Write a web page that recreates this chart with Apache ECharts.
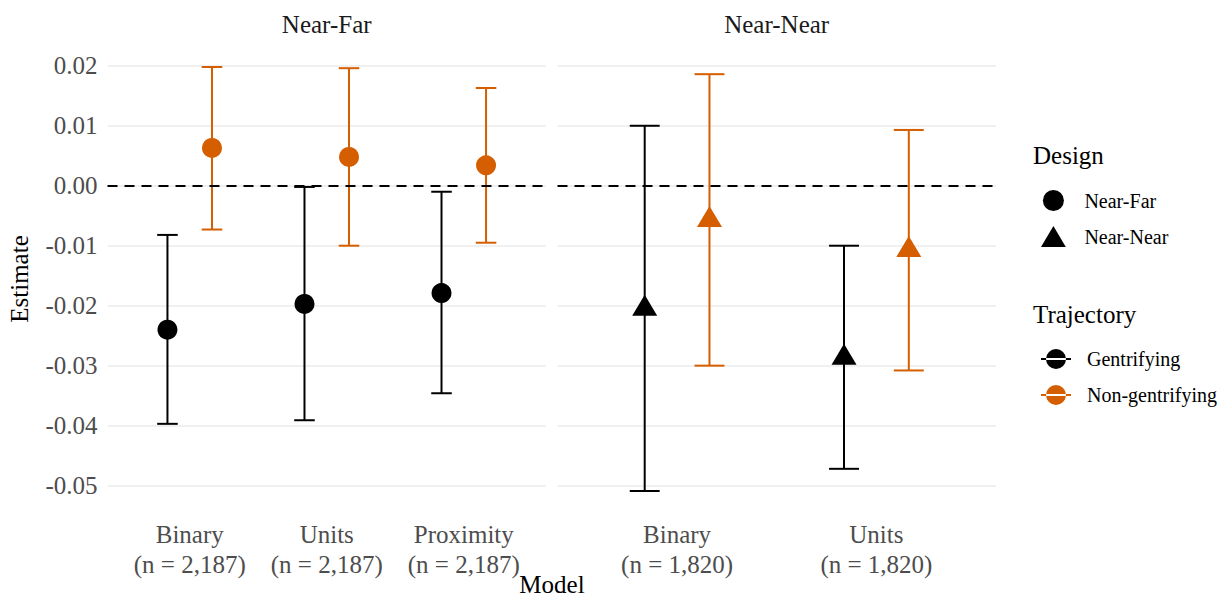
<!DOCTYPE html>
<html>
<head>
<meta charset="utf-8">
<script src="https://cdn.jsdelivr.net/npm/echarts@6/dist/echarts.min.js"></script>
<style>html,body{margin:0;padding:0;background:#fff;}#c{width:1227px;height:600px;}</style>
</head>
<body>
<div id="c"></div>
<script>
// ---- data ----
var facets = ['Near-Far', 'Near-Near'];
var catsNF = ['Binary\n(n = 2,187)', 'Units\n(n = 2,187)', 'Proximity\n(n = 2,187)'];
var catsNN = ['Binary\n(n = 1,820)', 'Units\n(n = 1,820)'];
var trajectories = ['Gentrifying', 'Non-gentrifying'];
var yTicks = [-0.05, -0.04, -0.03, -0.02, -0.01, 0, 0.01, 0.02];

var nfGentEst = [-0.0240, -0.0197, -0.0179];
var nfGentLo  = [-0.0397, -0.0391, -0.0346];
var nfGentHi  = [-0.0082, -0.0002, -0.0010];
var nfNonEst  = [0.0063, 0.0048, 0.0034];
var nfNonLo   = [-0.0073, -0.0100, -0.0095];
var nfNonHi   = [0.0198, 0.0196, 0.0163];

var nnGentEst = [-0.0205, -0.0287];
var nnGentLo  = [-0.0509, -0.0472];
var nnGentHi  = [0.0100, -0.0100];
var nnNonEst  = [-0.0057, -0.0107];
var nnNonLo   = [-0.0300, -0.0308];
var nnNonHi   = [0.0186, 0.0093];

// ---- styling ----
var BLACK = '#000000', ORANGE = '#D55E00';
var FONT = '"Liberation Serif", "DejaVu Serif", serif';
var DODGE = 0.1625, CAP = 0.075;

function pts(est, d) { return est.map(function (v, i) { return [i + 1 + d, v]; }); }
function bars(lo, hi, d) { return lo.map(function (v, i) { return [i + 1 + d, v, hi[i]]; }); }

function errRender(color) {
  return function (params, api) {
    var x = api.value(0);
    var lo = api.coord([x, api.value(1)]);
    var hi = api.coord([x, api.value(2)]);
    var half = api.size([CAP, 0])[0];
    var st = { stroke: color, lineWidth: 2 };
    return {
      type: 'group',
      children: [
        { type: 'line', shape: { x1: lo[0], y1: lo[1], x2: hi[0], y2: hi[1] }, style: st },
        { type: 'line', shape: { x1: lo[0] - half, y1: lo[1], x2: lo[0] + half, y2: lo[1] }, style: st },
        { type: 'line', shape: { x1: hi[0] - half, y1: hi[1], x2: hi[0] + half, y2: hi[1] }, style: st }
      ]
    };
  };
}

function errSeries(name, color, gi, data) {
  return {
    name: name, type: 'custom', xAxisIndex: gi, yAxisIndex: gi, z: 2,
    itemStyle: { color: color },
    renderItem: errRender(color),
    encode: { x: 0, y: [1, 2] },
    data: data, silent: true
  };
}

function xAxisFor(gi, cats) {
  return {
    type: 'value', gridIndex: gi, min: 0.4, max: cats.length + 0.6,
    axisLine: { show: false }, axisTick: { show: false }, splitLine: { show: false },
    axisLabel: {
      customValues: cats.map(function (c, i) { return i + 1; }),
      formatter: function (v) { return cats[Math.round(v) - 1] || ''; },
      fontFamily: FONT, fontSize: 25, color: '#4D4D4D', lineHeight: 30, margin: 7
    }
  };
}

function yAxisFor(gi, showLabels) {
  var ax = {
    type: 'value', gridIndex: gi, min: -0.0544, max: 0.0233,
    axisLine: { show: false },
    axisTick: { show: false, customValues: yTicks },
    splitLine: { show: true, lineStyle: { color: '#EBEBEB', width: 1.6 } },
    axisLabel: {
      show: showLabels, customValues: yTicks,
      formatter: function (v) { return v.toFixed(2); },
      fontFamily: FONT, fontSize: 25, color: '#4D4D4D', margin: 10
    }
  };
  if (showLabels) {
    ax.name = 'Estimate';
    ax.nameLocation = 'middle';
    ax.nameRotate = 90;
    ax.nameGap = 76;
    ax.nameTextStyle = { fontFamily: FONT, fontSize: 25, color: '#000' };
  }
  return ax;
}

var zeroLine = {
  silent: true, symbol: 'none', label: { show: false },
  lineStyle: { color: '#000', type: [10, 7], width: 2 },
  data: [{ yAxis: 0 }]
};

var circlePath = 'path://M0,10 a10,10 0 1,0 20,0 a10,10 0 1,0 -20,0 Z';
var triPath = 'path://M13,0 L26,22 L0,22 Z';
var trajIcon = 'path://M0,9 H30 V11 H0 Z M5,10 a10,10 0 1,0 20,0 a10,10 0 1,0 -20,0 Z';

var titleStyle = { fontFamily: FONT, fontSize: 25, fontWeight: 'normal', color: '#1A1A1A' };

var option = {
  animation: false,
  backgroundColor: '#fff',
  title: [
    { text: facets[0], left: 326.7, top: 12, textAlign: 'center', padding: 0, textStyle: titleStyle },
    { text: facets[1], left: 776.7, top: 12, textAlign: 'center', padding: 0, textStyle: titleStyle },
    { text: 'Model', left: 552, top: 572, textAlign: 'center', padding: 0,
      textStyle: { fontFamily: FONT, fontSize: 25, fontWeight: 'normal', color: '#000' } },
    { text: 'Design', left: 1033, top: 143, padding: 0,
      textStyle: { fontFamily: FONT, fontSize: 25, fontWeight: 'normal', color: '#000' } },
    { text: 'Trajectory', left: 1033, top: 302, padding: 0,
      textStyle: { fontFamily: FONT, fontSize: 25, fontWeight: 'normal', color: '#000' } }
  ],
  legend: [
    {
      orient: 'vertical', left: 1036, top: 185, itemWidth: 30, itemHeight: 21, itemGap: 15,
      symbolKeepAspect: true, selectedMode: false,
      textStyle: { fontFamily: FONT, fontSize: 20, color: '#000', padding: [0, 0, 0, 11] },
      data: [
        { name: facets[0], icon: circlePath, itemStyle: { color: BLACK } },
        { name: facets[1], icon: triPath, itemStyle: { color: BLACK } }
      ]
    },
    {
      orient: 'vertical', left: 1036, top: 344, itemWidth: 30, itemHeight: 20, itemGap: 16,
      symbolKeepAspect: true, selectedMode: false,
      textStyle: { fontFamily: FONT, fontSize: 20, color: '#000', padding: [0, 0, 0, 11] },
      data: [
        { name: trajectories[0], icon: trajIcon, itemStyle: { color: BLACK } },
        { name: trajectories[1], icon: trajIcon, itemStyle: { color: ORANGE } }
      ]
    }
  ],
  grid: [
    { left: 107.5, top: 46, width: 438.5, height: 466 },
    { left: 557.5, top: 46, width: 438.5, height: 466 }
  ],
  xAxis: [xAxisFor(0, catsNF), xAxisFor(1, catsNN)],
  yAxis: [yAxisFor(0, true), yAxisFor(1, false)],
  series: [
    errSeries(trajectories[0], BLACK, 0, bars(nfGentLo, nfGentHi, -DODGE)),
    errSeries(trajectories[1], ORANGE, 0, bars(nfNonLo, nfNonHi, DODGE)),
    errSeries(trajectories[0], BLACK, 1, bars(nnGentLo, nnGentHi, -DODGE)),
    errSeries(trajectories[1], ORANGE, 1, bars(nnNonLo, nnNonHi, DODGE)),
    { name: facets[0], type: 'scatter', xAxisIndex: 0, yAxisIndex: 0, z: 3, symbol: 'circle', symbolSize: 20,
      itemStyle: { color: BLACK, opacity: 1 }, data: pts(nfGentEst, -DODGE), silent: true,
      markLine: zeroLine },
    { name: facets[0], type: 'scatter', xAxisIndex: 0, yAxisIndex: 0, z: 3, symbol: 'circle', symbolSize: 20,
      itemStyle: { color: ORANGE, opacity: 1 }, data: pts(nfNonEst, DODGE), silent: true },
    { name: facets[1], type: 'scatter', xAxisIndex: 1, yAxisIndex: 1, z: 3, symbol: 'triangle', symbolSize: [25, 21],
      symbolOffset: [0, -3.5], itemStyle: { color: BLACK, opacity: 1 }, data: pts(nnGentEst, -DODGE), silent: true,
      markLine: zeroLine },
    { name: facets[1], type: 'scatter', xAxisIndex: 1, yAxisIndex: 1, z: 3, symbol: 'triangle', symbolSize: [25, 21],
      symbolOffset: [0, -3.5], itemStyle: { color: ORANGE, opacity: 1 }, data: pts(nnNonEst, DODGE), silent: true }
  ]
};

var chart = echarts.init(document.getElementById('c'), null, { renderer: 'svg' });
chart.setOption(option);
</script>
</body>
</html>
